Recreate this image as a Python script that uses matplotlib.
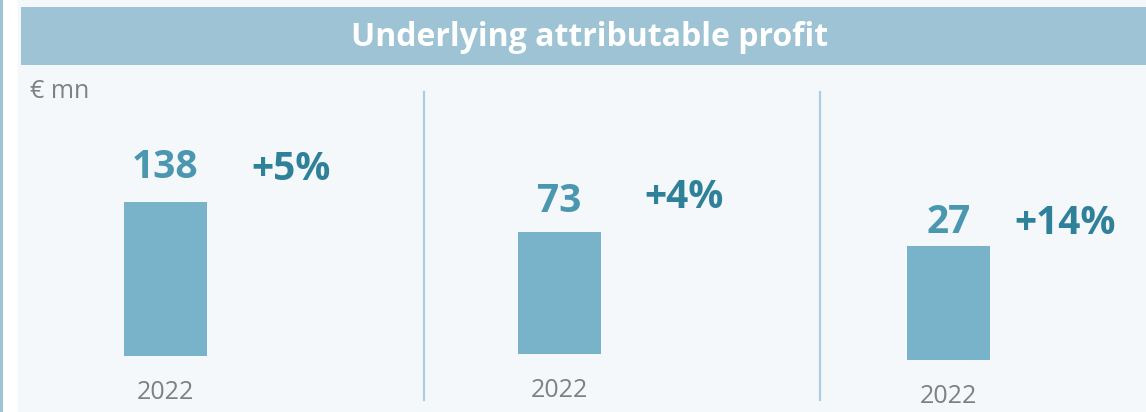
import matplotlib.pyplot as plt
from matplotlib.patches import Rectangle
from matplotlib.lines import Line2D

plt.rcParams['font.family'] = ['Open Sans', 'DejaVu Sans']

# data
title = "Underlying attributable profit"
unit = "€ mn"
years = ["2022", "2022", "2022"]
profits = [138, 73, 27]
changes = ["+5%", "+4%", "+14%"]

# layout (pixels, image is 1146x412)
W, H = 1146, 412
bar_left = [124, 518, 907]
bar_bottom = [356, 354, 360]
bar_top = [202, 232, 246]
bar_w = 83
value_off = [(0, 35), (0, 31), (0, 23)]
change_off = [(126, 32), (125, 34), (117, 22)]
separators = [424, 820]

bg = "#f4f8fb"
header_col = "#9dc3d4"
bar_col = "#79b3c9"
value_col = "#4b97b0"
change_col = "#2f8199"
grey = "#808080"

fig = plt.figure(figsize=(W / 100, H / 100), dpi=100, facecolor="white")


def fx(px):
    return px / W


def fy(py):
    return 1 - py / H


# panel background, left border and header band
fig.patches.append(Rectangle((fx(18), 0), 1 - fx(18), 1, transform=fig.transFigure,
                             facecolor=bg, edgecolor="none", zorder=-2))
fig.patches.append(Rectangle((0, 0), fx(2.5), 1, transform=fig.transFigure,
                             facecolor=header_col, edgecolor="none", zorder=-2))
fig.patches.append(Rectangle((fx(21), fy(65)), 1 - fx(21), fy(7) - fy(65),
                             transform=fig.transFigure, facecolor=header_col,
                             edgecolor="none", zorder=-1))
fig.text(fx(590), fy(37), title, color="white", fontsize=23, fontweight="bold",
         ha="center", va="center")
fig.text(fx(30), fy(92), unit, color=grey, fontsize=18, ha="left", va="center")

for x in separators:
    fig.add_artist(Line2D([fx(x), fx(x)], [fy(92), fy(400)], transform=fig.transFigure,
                          color="#a9cfe0", lw=1.6))

for i in range(3):
    ax = fig.add_axes([fx(bar_left[i]), fy(bar_bottom[i]), fx(bar_w),
                       (bar_bottom[i] - bar_top[i]) / H])
    ax.bar([0], [profits[i]], width=1.0, color=bar_col)
    ax.set_xlim(-0.5, 0.5)
    ax.set_ylim(0, profits[i])
    ax.set_xticks([0])
    ax.set_xticklabels([years[i]], color=grey, fontsize=18)
    ax.tick_params(axis="x", length=0, pad=17)
    ax.set_yticks([])
    for s in ax.spines.values():
        s.set_visible(False)
    ax.patch.set_visible(False)
    ax.annotate(str(profits[i]), xy=(0, profits[i]), xytext=value_off[i],
                textcoords="offset pixels", ha="center", va="center",
                fontsize=28, fontweight="bold", color=value_col, annotation_clip=False)
    ax.annotate(changes[i], xy=(0, profits[i]), xytext=change_off[i],
                textcoords="offset pixels", ha="center", va="center",
                fontsize=28, fontweight="bold", color=change_col, annotation_clip=False)

fig.savefig("out.png", dpi=100, facecolor=fig.get_facecolor())
